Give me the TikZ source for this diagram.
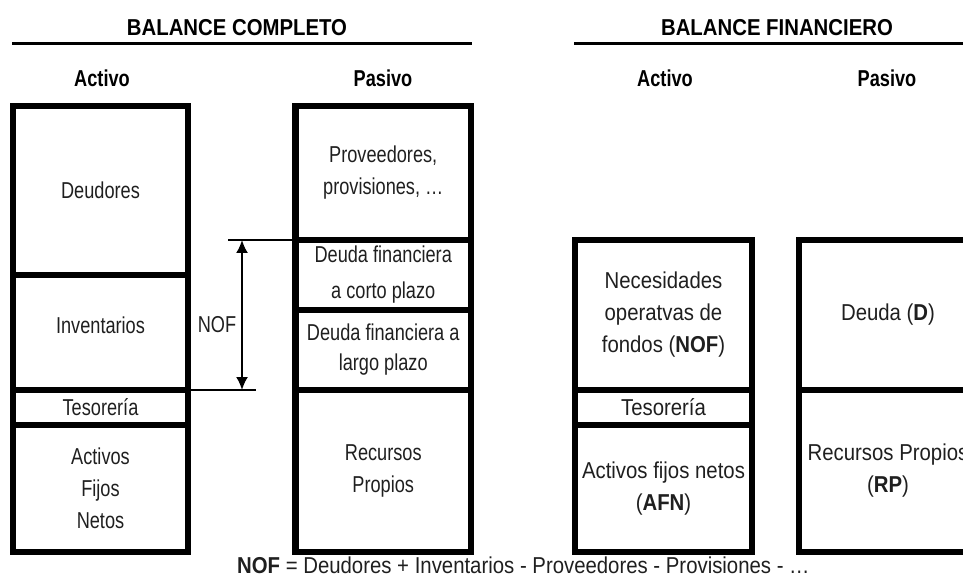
\documentclass[tikz,border=0pt]{standalone}
\usepackage{fontspec}
\setmainfont{Liberation Sans}
\newfontfamily\fnarrow[FakeStretch=0.79]{Liberation Sans}
\newfontfamily\fwide[FakeStretch=0.885]{Liberation Sans}
\usetikzlibrary{arrows.meta}
\definecolor{txt}{rgb}{0.12,0.12,0.12}
\begin{document}
\begin{tikzpicture}[x=1pt,y=-1pt,
  cell/.style={draw, line width=6.5pt, rectangle, inner sep=0pt, outer sep=0pt,
    align=center, font=\fnarrow\fontsize{23}{32}\selectfont, text=txt},
  cellb/.style={cell, font=\fwide\fontsize{23}{32}\selectfont},
  lbl/.style={inner sep=0pt, text=txt, font=\fnarrow\fontsize{23}{32}\selectfont},
  ttl/.style={inner sep=0pt, font=\fwide\fontsize{23}{26}\selectfont\bfseries},
  hdr/.style={inner sep=0pt, font=\fnarrow\fontsize{23}{26}\selectfont\bfseries},
  titlerule/.style={line width=3pt},
  nofline/.style={line width=2.2pt},
  nofarrow/.style={line width=2pt, {Latex[length=13pt,width=12pt]}-{Latex[length=13pt,width=12pt]}}
]
\useasboundingbox (0,0) rectangle (963,577);
\clip (0,0) rectangle (963,577);

% titles
\node[ttl] (t1) at (237,28) {BALANCE COMPLETO};
\coordinate (r1a) at (12,44);
\coordinate (r1b) at (472,44);
\draw[titlerule] (r1a) -- (r1b);
\node[ttl] (t2) at (777,28) {BALANCE FINANCIERO};
\coordinate (r2a) at (574,44);
\coordinate (r2b) at (970,44);
\draw[titlerule] (r2a) -- (r2b);

% headers
\node[hdr] (h1) at (102,78) {Activo};
\node[hdr] (h2) at (383,78) {Pasivo};
\node[hdr] (h3) at (665,78) {Activo};
\node[hdr] (h4) at (887,78) {Pasivo};

% Balance completo - Activo
\node[cell, minimum width=175pt, minimum height=169pt] (adeu) at (100.5,190.5) {Deudores};
\node[cell, minimum width=175pt, minimum height=115pt] (ainv) at (100.5,332.5) {};
\node[lbl] (ainvt) at (100.5,325) {Inventarios};
\node[cell, minimum width=175pt, minimum height=35pt] (ates) at (100.5,407.5) {Tesorería};
\node[cell, minimum width=175pt, minimum height=127pt] (aafn) at (100.5,488.5) {Activos\\Fijos\\Netos};

% Balance completo - Pasivo
\node[cell, minimum width=175.5pt, minimum height=134pt] (pprov) at (383.25,173) {Proveedores,\\provisiones, \ldots};
\node[cell, minimum width=175.5pt, minimum height=70pt] (pdcp) at (383.25,275) {Deuda financiera\\[4pt]a corto plazo};
\node[cell, minimum width=175.5pt, minimum height=80pt] (pdlp) at (383.25,350) {Deuda financiera a\\[-2pt]largo plazo};
\node[cell, minimum width=175.5pt, minimum height=162pt] (prp) at (383.25,471) {Recursos\\Propios};

% NOF marker
\coordinate (nt) at (228,240);
\coordinate (nb) at (256,390);
\draw[nofline] (nt) -- (pdcp.north west);
\draw[nofline] (ainv.south east) -- (nb);
\coordinate (at) at (242,240);
\coordinate (ab) at (242,390);
\draw[nofarrow] (at) -- (ab);
\node[lbl] (noflbl) at (217,325) {NOF};

% Balance financiero - Activo
\node[cellb, minimum width=177pt, minimum height=150pt] (fnof) at (663.5,315) {Necesidades\\operatvas de\\fondos (\textbf{NOF})};
\node[cellb, minimum width=177pt, minimum height=35pt] (ftes) at (663.5,407.5) {Tesorería};
\node[cellb, minimum width=177pt, minimum height=127pt] (fafn) at (663.5,488.5) {Activos fijos netos\\(\textbf{AFN})};

% Balance financiero - Pasivo
\node[cellb, minimum width=178pt, minimum height=150pt] (fd) at (888,315) {Deuda (\textbf{D})};
\node[cellb, minimum width=178pt, minimum height=162pt] (frp) at (888,471) {Recursos Propios\\(\textbf{RP})};

% formula
\node[inner sep=0pt, anchor=west, text=txt, font=\fwide\fontsize{23}{26}\selectfont] (form) at (237,565)
  {\textbf{NOF} = Deudores + Inventarios - Proveedores - Provisiones - \ldots};
\end{tikzpicture}
\end{document}
